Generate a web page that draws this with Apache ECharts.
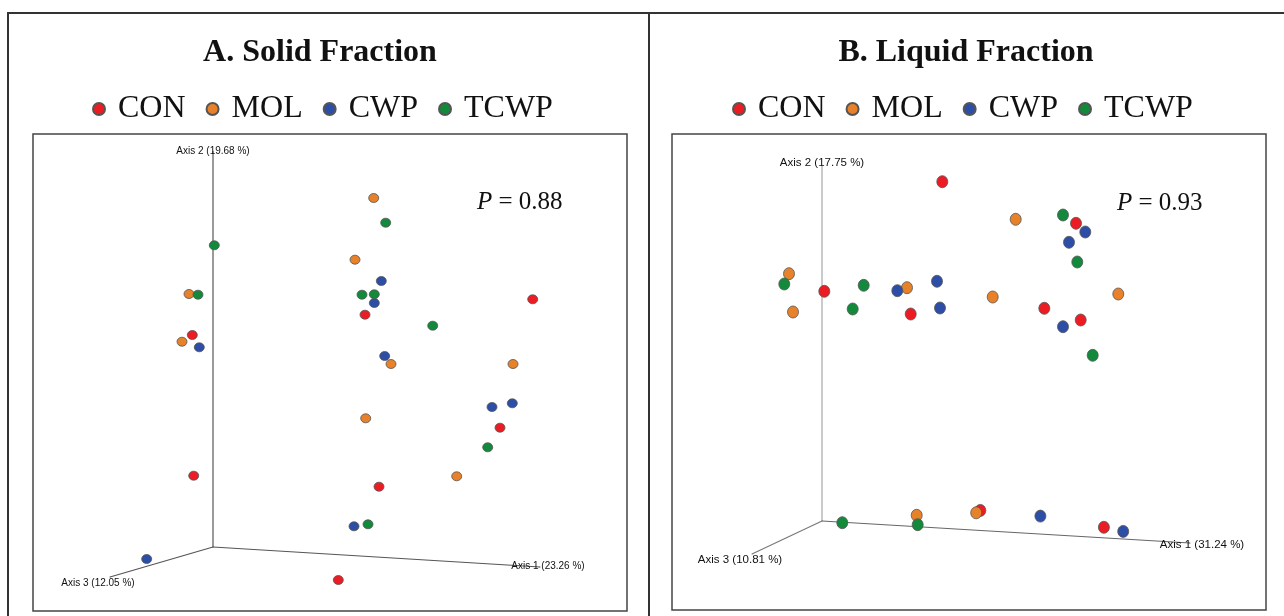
<!DOCTYPE html>
<html>
<head>
<meta charset="utf-8">
<script src="https://cdn.jsdelivr.net/npm/echarts@6/dist/echarts.min.js"></script>
<style>
html,body{margin:0;padding:0;background:#fff;}
#chart{width:1284px;height:616px;}
</style>
</head>
<body>
<div id="chart"></div>
<script>
// ---- Data: PCoA points projected onto the 3D-axes view (units relative to axes origin) ----
var groups = ['CON', 'MOL', 'CWP', 'TCWP'];
var colors = ['#ec1c24', '#e8822a', '#2d4ea6', '#13893c'];

// A. Solid Fraction
var solidCON  = [[-20.7,212],[-19.3,71.3],[152,232.3],[319.7,247.7],[287,119.3],[166,60.3],[125.3,-33]];
var solidMOL  = [[-24,253],[-31,205.3],[160.7,349],[142,287.3],[178,183],[300,183],[152.7,128.7],[243.7,70.7]];
var solidCWP  = [[-13.7,199.7],[-66.3,-12],[168.3,266],[161.3,244],[171.7,191],[279,140],[299.3,143.7],[141,20.7]];
var solidTCWP = [[1.3,301.7],[-15,252.3],[172.7,324.3],[149,252.3],[161.3,252.7],[219.7,221.3],[274.7,99.7],[155,22.7]];

// B. Liquid Fraction
var liquidCON  = [[120.3,339.3],[2.3,229.7],[88.7,207],[254,297.7],[222.3,212.7],[258.7,201],[158.3,10.6],[281.9,-6.3]];
var liquidMOL  = [[-33,247.3],[85,233.3],[-29,209],[193.7,301.7],[170.7,224],[296.3,227],[94.7,5.7],[154.2,8.2]];
var liquidCWP  = [[75.3,230.3],[115,239.7],[118,213],[263.3,289],[247,278.7],[241,194.3],[218.4,4.9],[301.2,-10.4]];
var liquidTCWP = [[-37.7,237],[41.7,235.7],[30.7,212],[241,306],[255.3,259],[270.7,165.7],[20.3,-1.7],[95.7,-3.7]];

// Axis ends (projected) and labels
var solidAxisLabels  = ['Axis 1 (23.26 %)', 'Axis 2 (19.68 %)', 'Axis 3 (12.05 %)'];
var solidAxisEnds    = [[327,-20],[0,396],[-103,-30]];
var liquidAxisLabels = ['Axis 1 (31.24 %)', 'Axis 2 (17.75 %)', 'Axis 3 (10.81 %)'];
var liquidAxisEnds   = [[368,-22],[0,356],[-70,-33]];

var panelTitles = ['A. Solid Fraction', 'B. Liquid Fraction'];
var pValues = ['0.88', '0.93'];

// ---- Chart ----
var chart = echarts.init(document.getElementById('chart'), null, {renderer:'canvas'});

function axisLine(gi, end, label, color, width, offset, fs) {
  return {
    type:'line', xAxisIndex:gi, yAxisIndex:gi, silent:true, z:1,
    symbol:'circle', symbolSize:1, showSymbol:true,
    itemStyle:{color:color},
    lineStyle:{color:color, width:width},
    data:[[0,0], {value:end, label:{show:true, position:'inside', offset:offset,
      formatter:label, color:'#111', fontSize:fs, fontFamily:'Liberation Sans, Arial, sans-serif'}}],
    label:{show:false}
  };
}

function pointSeries(gi, name, data, idx, size) {
  return {
    type:'scatter', name:name, xAxisIndex:gi, yAxisIndex:gi, z:3,
    symbol:'circle', symbolSize:size, data:data,
    itemStyle:{color:colors[idx], borderColor:'#555', borderWidth:0.8, opacity:1}
  };
}

var series = [
  axisLine(0, solidAxisEnds[1], solidAxisLabels[1], '#9a9a9a', 2, [0,0], 10),
  axisLine(0, solidAxisEnds[0], solidAxisLabels[0], '#555', 1.2, [8,-1], 10),
  axisLine(0, solidAxisEnds[2], solidAxisLabels[2], '#555', 1.2, [-12,6], 10),
  axisLine(1, liquidAxisEnds[1], liquidAxisLabels[1], '#bdbdbd', 1.6, [0,-2], 11.5),
  axisLine(1, liquidAxisEnds[0], liquidAxisLabels[0], '#666', 1.1, [12,2], 11.5),
  axisLine(1, liquidAxisEnds[2], liquidAxisLabels[2], '#777', 1.1, [-12,6], 11.5)
];
var solidSets = [solidCON, solidMOL, solidCWP, solidTCWP];
var liquidSets = [liquidCON, liquidMOL, liquidCWP, liquidTCWP];
for (var i = 0; i < groups.length; i++) series.push(pointSeries(0, groups[i], solidSets[i], i, [10,9]));
for (var j = 0; j < groups.length; j++) series.push(pointSeries(1, groups[j], liquidSets[j], j, [11,12]));

function legend(left) {
  return {
    data:groups, left:left, top:88, orient:'horizontal',
    icon:'circle', itemWidth:12, itemHeight:12, itemGap:20,
    formatter:' {name}', selectedMode:false,
    textStyle:{fontFamily:'Liberation Serif, Times New Roman, serif', fontSize:32, color:'#111'}
  };
}

var hidden = {show:false};
var option = {
  animation:false,
  backgroundColor:'#fff',
  color:colors,
  legend:[legend(87), legend(727)],
  grid:[
    {left:33, top:134, width:594, height:477, show:true, borderColor:'#444', borderWidth:1.5, backgroundColor:'transparent'},
    {left:672, top:134, width:594, height:476, show:true, borderColor:'#444', borderWidth:1.5, backgroundColor:'transparent'}
  ],
  xAxis:[
    {type:'value', gridIndex:0, min:-180, max:414, axisLine:hidden, axisTick:hidden, axisLabel:hidden, splitLine:hidden},
    {type:'value', gridIndex:1, min:-150, max:444, axisLine:hidden, axisTick:hidden, axisLabel:hidden, splitLine:hidden}
  ],
  yAxis:[
    {type:'value', gridIndex:0, min:-64, max:413, axisLine:hidden, axisTick:hidden, axisLabel:hidden, splitLine:hidden},
    {type:'value', gridIndex:1, min:-89, max:387, axisLine:hidden, axisTick:hidden, axisLabel:hidden, splitLine:hidden}
  ],
  series:series,
  graphic:[
    {type:'rect', shape:{x:8, y:13, width:641, height:620}, style:{fill:'none', stroke:'#333', lineWidth:2}, silent:true, z:-1},
    {type:'rect', shape:{x:649, y:13, width:660, height:620}, style:{fill:'none', stroke:'#333', lineWidth:2}, silent:true, z:-1},
    {type:'text', x:320, y:53, style:{text:panelTitles[0], fontFamily:'Liberation Serif, Times New Roman, serif', fontWeight:'bold', fontSize:32, fill:'#111', align:'center', verticalAlign:'middle'}},
    {type:'text', x:966, y:53, style:{text:panelTitles[1], fontFamily:'Liberation Serif, Times New Roman, serif', fontWeight:'bold', fontSize:32, fill:'#111', align:'center', verticalAlign:'middle'}},
    {type:'text', x:477, y:202, style:{text:'{i|P} = ' + pValues[0], align:'left', verticalAlign:'middle',
      fontFamily:'Liberation Serif, Times New Roman, serif', fontSize:25, fill:'#111',
      rich:{i:{fontStyle:'italic', fontFamily:'Liberation Serif, Times New Roman, serif', fontSize:25, fill:'#111'}}}},
    {type:'text', x:1117, y:203, style:{text:'{i|P} = ' + pValues[1], align:'left', verticalAlign:'middle',
      fontFamily:'Liberation Serif, Times New Roman, serif', fontSize:25, fill:'#111',
      rich:{i:{fontStyle:'italic', fontFamily:'Liberation Serif, Times New Roman, serif', fontSize:25, fill:'#111'}}}}
  ]
};
chart.setOption(option);
</script>
</body>
</html>
